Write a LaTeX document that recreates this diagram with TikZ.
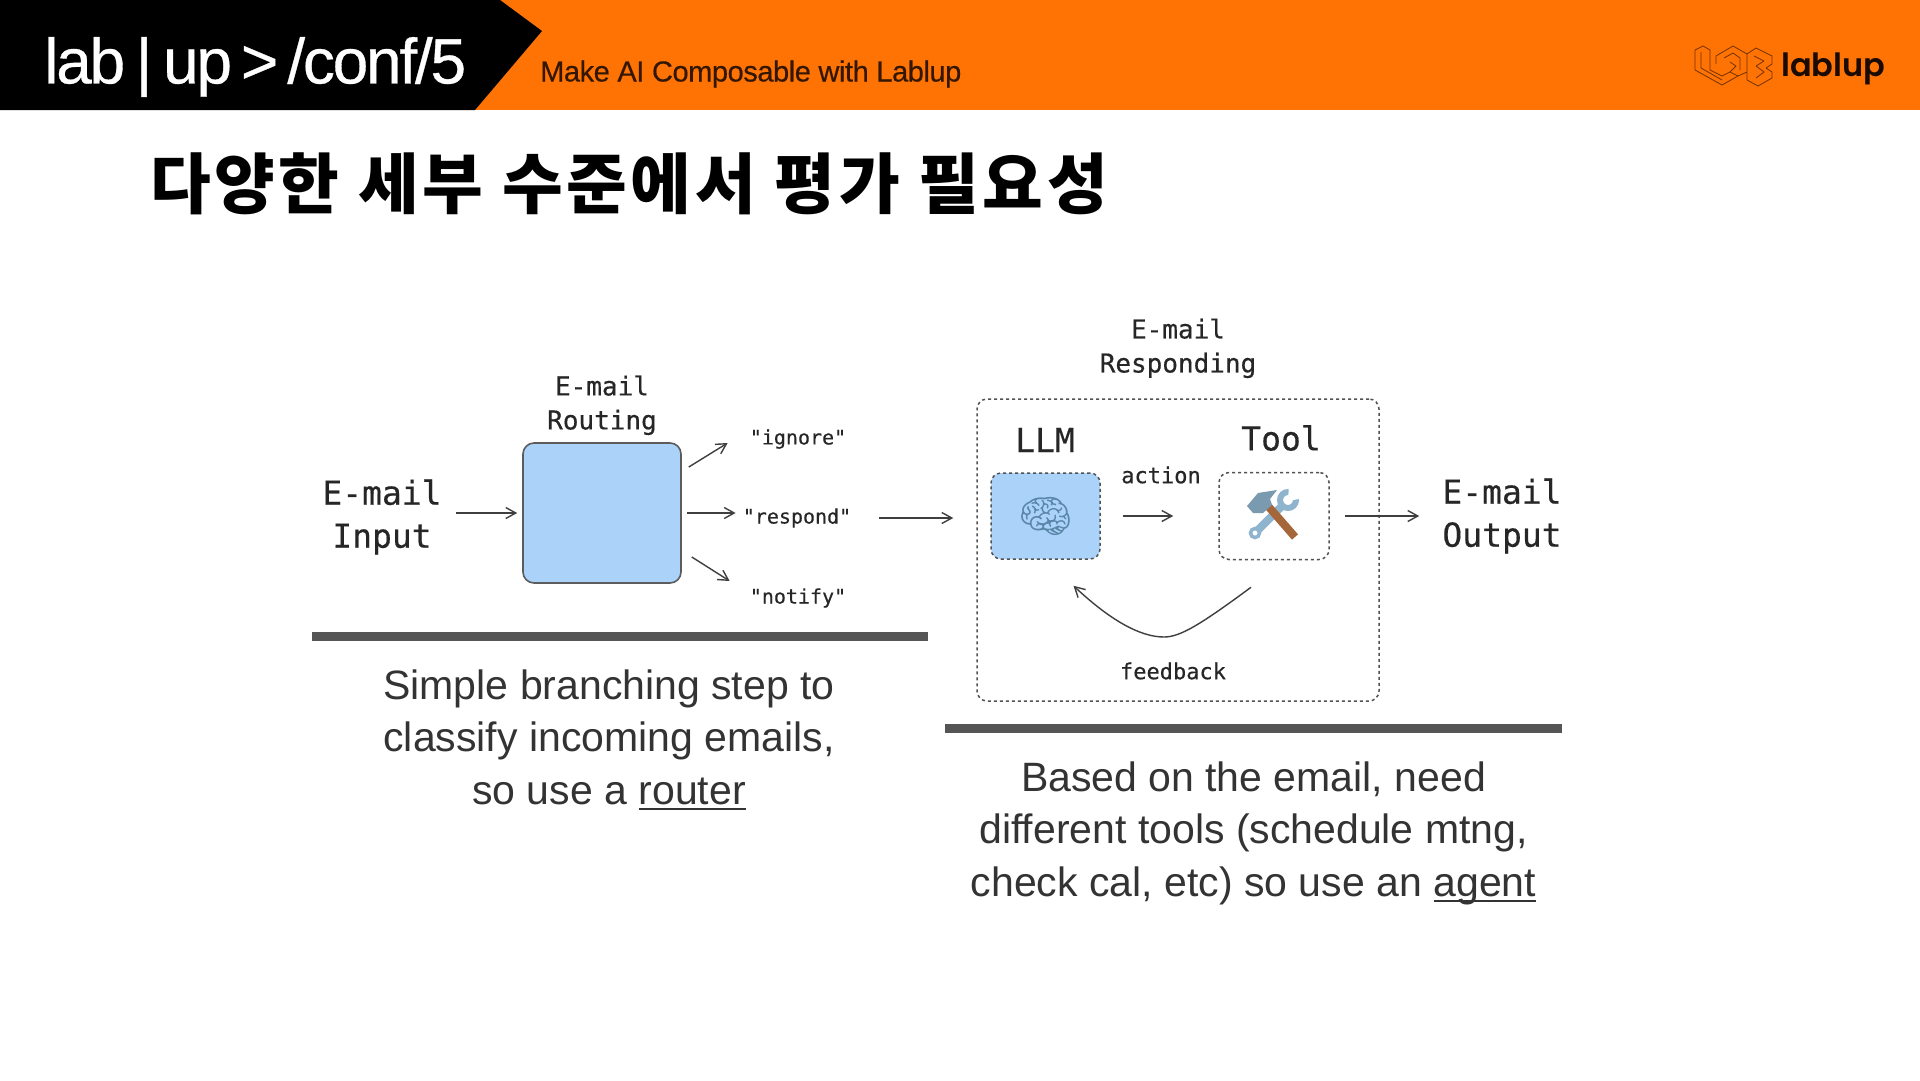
\documentclass[tikz,border=0pt]{standalone}
\usepackage{fontspec}
\usepackage{xcolor}
\usepackage{tikz}
\usetikzlibrary{positioning,arrows.meta,calc}
\setmainfont{Liberation Sans}
\newfontfamily\headfont[FakeBold=0.5,LetterSpace=-3.5]{Liberation Sans}
\newfontfamily\slogfont[FakeBold=0.4,LetterSpace=-1.5]{Liberation Sans}
\newfontfamily\monofont[FakeBold=0.4]{DejaVu Sans Mono}
\newfontfamily\krfont[LetterSpace=5.5]{Noto Sans CJK KR}
\newfontfamily\emojifont{Noto Emoji}
\definecolor{bandorange}{HTML}{FF7204}
\definecolor{boxblue}{HTML}{ABD3F9}
\definecolor{inkgray}{HTML}{3F3F3F}
\definecolor{bargray}{HTML}{555555}
\definecolor{toolsteel}{HTML}{8FB5CE}
\definecolor{toolwood}{HTML}{A5663A}
\definecolor{brainblue}{HTML}{5A86A8}
\newlength\ulwd
\newcommand{\ulword}[1]{\settowidth{\ulwd}{#1}\rlap{\rule[-6pt]{\ulwd}{2pt}}#1}

\begin{document}
\begin{tikzpicture}[
		x=1pt, y=-1pt,
		inner sep=0pt,
		mono/.style 2 args={font=\monofont\fontsize{#1}{#2}\selectfont, text=black!85, align=center},
		note/.style={font=\fontsize{41}{52.5}\selectfont, text=black!80, align=center},
		routebox/.style={draw=inkgray!85, line width=1.6pt, fill=boxblue, rounded corners=11pt},
		dashbox/.style={draw=inkgray!90, line width=1.5pt, dash pattern=on 3pt off 3pt, rounded corners=10pt},
		arr/.style={-{Straight Barb[length=10pt,width=11pt]}, line width=1.4pt, draw=inkgray},
		bar/.style={fill=bargray, minimum height=9pt}
		]
		\useasboundingbox (0,0) rectangle (1920,1080);
		\fill[white] (0,0) rectangle (1920,1080);
		% header band
		\fill[bandorange] (0,0) rectangle (1920,110);
		\fill[black] (0,0) -- (500,0) -- (542,31) -- (475,110) -- (0,110) -- cycle;
		\node[anchor=west, text=white, font=\headfont\fontsize{64}{66}\selectfont] (conf) at (44,67) {lab\,|\,up\kern9pt>\kern9pt/conf/5};
		\node[anchor=west, text=black!80!bandorange, font=\slogfont\fontsize{29}{30}\selectfont] (slogan) at (540,74) {Make AI Composable with Lablup};
		% logo
		\draw[draw=black!55!bandorange, line width=.8pt, line join=bevel]
			(1695,50) -- (1703,46) -- (1710,50) -- (1710,70) -- (1722,76) -- (1730,72) -- (1738,76) -- (1722,85) -- (1695,70) -- cycle
			(1701,52) -- (1701,68) -- (1722,80)
			(1716,64) -- (1716,56) -- (1733,46) -- (1747,54) -- (1747,72) -- (1738,76)
			(1724,58) -- (1733,53) -- (1740,58) -- (1740,70)
			(1730,62) -- (1736,66) -- (1730,72)
			(1747,54) -- (1756,48) -- (1772,56) -- (1772,64) -- (1766,68) -- (1772,72) -- (1772,78) -- (1758,86) -- (1747,80) -- (1747,72)
			(1754,56) -- (1764,61) -- (1756,66) -- (1764,72) -- (1756,78);
		\node[anchor=west, text=black!90!bandorange, font={\fontspec{Poppins SemiBold}\fontsize{32}{33}\selectfont}] (lablup) at (1781,69) {lablup};
		% title
		\node[anchor=west, font=\krfont\bfseries\fontsize{66}{68}\selectfont, text=black] (title) at (150,184) {다양한 세부 수준에서 평가 필요성};

		% left part
		\node[routebox, minimum width=158pt, minimum height=140pt] (routing) at (602,513) {};
		\node[mono={33}{43}] (input) at (382,517) {E-mail\\Input};
		\node[mono={26}{34}, above=7pt of routing] (routinglab) {E-mail\\Routing};
		\node[mono={20}{26}] (ignore) at (798,439) {"ignore"};
		\node[mono={20}{26}] (respond) at (797,518) {"respond"};
		\node[mono={20}{26}] (notify) at (798,598) {"notify"};
		\node[bar, minimum width=616pt] (barleft) at (620,636.5) {};
		\node[note, below=28pt of barleft, xshift=-11pt] (noteleft) {Simple branching step to\\classify incoming emails,\\so use a \ulword{router}};
		\draw[arr] ([xshift=14pt]input.east |- routing.west) -- ([xshift=-5pt]routing.west);
		\draw[arr] ([shift={(7,-46)}]routing.east) -- ([shift={(-22,4)}]ignore.west);
		\draw[arr] ([xshift=5pt]routing.east) -- ([xshift=-7pt]respond.west |- routing.east);
		\draw[arr] ([shift={(10,44)}]routing.east) -- ([shift={(-20,-17)}]notify.west);

		% right part
		\node[dashbox, minimum width=402pt, minimum height=302pt] (agent) at (1178,550) {};
		\node[mono={26}{34}, above=20pt of agent] (agentlab) {E-mail\\Responding};
		\node[dashbox, fill=boxblue, minimum width=109pt, minimum height=86pt] (llm) at (1045.5,516) {};
		\node[dashbox, minimum width=110pt, minimum height=87pt] (tool) at (1274,516) {};
		\node[mono={33}{43}] (llmlab) at (1045,440) {LLM};
		\node[mono={33}{43}] (toollab) at (1281,438) {Tool};
		\node[mono={22}{28}] (action) at (1161,475) {action};
		\node[mono={22}{28}] (feedback) at (1173,671) {feedback};
		\node[mono={33}{43}] (output) at (1502,516) {E-mail\\Output};
		\node[bar, minimum width=617pt] (barright) at (1253.5,728.5) {};
		\node[note, below=28pt of barright] (noteright) {Based on the email, need\\different tools (schedule mtng,\\check cal, etc) so use an \ulword{agent}};
		\node[font=\emojifont\fontsize{44}{44}\selectfont, text=brainblue] (brain) at (llm) {🧠};
		% tools icon
		\draw[line width=8pt, draw=toolsteel] (1258,530) -- (1282,506);
		\draw[line width=3.5pt, draw=toolsteel, fill=white] (1255,533) circle (4.5pt);
		\draw[line width=6pt, draw=toolsteel] (1288,500) circle (8pt);
		\fill[white] (1288,501) -- (1289,485) -- (1304,498) -- cycle;
		\draw[line width=8pt, draw=toolwood] (1268,506) -- (1295,537);
		\fill[toolsteel!85!black] (1247,506) -- (1258,493) -- (1277,490) -- (1270,499) -- (1272,505) -- (1263,513) -- (1253,513) -- cycle;

		\draw[arr] ([xshift=28pt]respond.east) -- ([xshift=-23pt]agent.west |- respond.east);
		\draw[arr] ([xshift=22pt]llm.east) -- ([xshift=-45pt]tool.west);
		\draw[arr] ([xshift=15pt]tool.east) -- ([xshift=-23pt]output.west |- tool.east);
		\draw[arr] ([shift={(-23,27)}]tool.south) .. controls (1200,625) and (1180,637) .. (1164,637) .. controls (1140,637) and (1110,620) .. ([shift={(28,26)}]llm.south);
	\end{tikzpicture}
\end{document}
